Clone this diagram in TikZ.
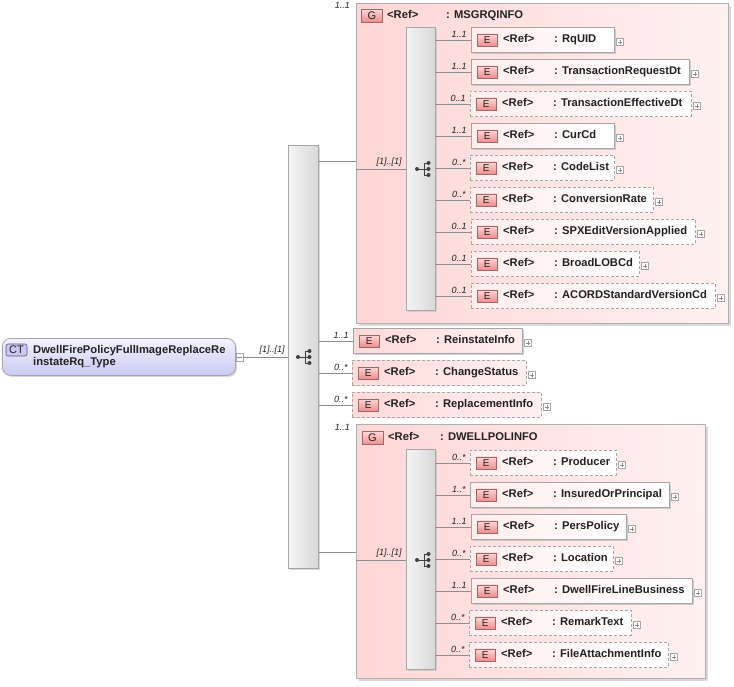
\documentclass[tikz,border=0pt]{standalone}
\usepackage{fontspec}
\setmainfont{Liberation Sans}
\usetikzlibrary{shadows}
\definecolor{lnc}{HTML}{8E8E8E}
\definecolor{bxc}{HTML}{A6A6A6}
\definecolor{gbc}{HTML}{B0B0B0}
\definecolor{pinkA}{HTML}{FFD6D6}
\definecolor{pinkB}{HTML}{FFF1F1}
\definecolor{epA}{HTML}{FFD9D9}
\definecolor{epB}{HTML}{FFEFEF}
\definecolor{eiA}{HTML}{FFEDED}
\definecolor{tagT}{HTML}{FFD6D6}
\definecolor{tagB}{HTML}{EE8E8E}
\definecolor{tagD}{HTML}{9A6A6A}
\definecolor{ctA}{HTML}{F2F2FF}
\definecolor{ctB}{HTML}{CACAF2}
\definecolor{cttag}{HTML}{C8C8F0}
\definecolor{cttagD}{HTML}{55558A}
\definecolor{barA}{HTML}{F4F4F4}
\definecolor{barB}{HTML}{D8D8D8}
\definecolor{txt}{HTML}{222222}
\newcommand{\xelem}[9]{%
  \node[ebox,#6,#7,minimum width=#4pt,anchor=north west] (#1) at (#2,#3) {};
  \node[etag,anchor=west] (#1t) at ([xshift=6pt]#1.west) {E};
  \node[reftxt,anchor=west] (#1r) at ([xshift=32pt]#1.west) {<Ref>};
  \node[reftxt,anchor=west] (#1n) at ([xshift=83pt]#1.west) {: #5};
  \node[plusbox] (#1p) at ([xshift=5pt,yshift=-2pt]#1.east) {};
  \draw[conn] (#9.east |- #1.west) -- (#1.west)
    node[occ,pos=1,anchor=south east,xshift=-4pt,yshift=2pt] {#8};
}
\begin{document}
\begin{tikzpicture}[x=1pt,y=-1pt,
  conn/.style={draw=lnc,line width=0.7pt},
  ebox/.style={draw=bxc,line width=0.8pt,minimum height=25pt,inner sep=0pt},
  solidb/.style={drop shadow={shadow xshift=1.5pt,shadow yshift=-1.5pt,fill=black!30,opacity=0.6}},
  dashb/.style={dash pattern=on 3pt off 2pt},
  ingrp/.style={left color=eiA,right color=white},
  toplv/.style={left color=epA,right color=epB},
  etag/.style={draw=tagD,line width=0.6pt,top color=tagT,bottom color=tagB,minimum width=20pt,minimum height=12pt,inner sep=0pt,font=\fontsize{10}{10}\selectfont,text=txt},
  reftxt/.style={font=\fontsize{11.2}{13}\selectfont\bfseries,inner sep=0pt,text=txt,text height=8pt,text depth=2.4pt},
  occ/.style={font=\fontsize{9}{10}\selectfont\itshape,inner sep=0pt,text=txt},
  plusbox/.style={draw=black!35,line width=0.5pt,minimum size=7pt,inner sep=0pt,fill=white,
    path picture={\draw[black!45,line width=0.5pt]
      ([xshift=-2.2pt]path picture bounding box.center) -- ([xshift=2.2pt]path picture bounding box.center)
      ([yshift=-2.2pt]path picture bounding box.center) -- ([yshift=2.2pt]path picture bounding box.center);}},
  bar/.style={draw=black!35,line width=0.7pt,left color=barA,right color=barB,inner sep=0pt,
    drop shadow={shadow xshift=1.5pt,shadow yshift=-1.5pt,fill=black!25,opacity=0.6}},
  grp/.style={draw=gbc,line width=0.8pt,left color=pinkA,right color=pinkB,inner sep=0pt,
    drop shadow={shadow xshift=2.5pt,shadow yshift=-2.5pt,fill=black!25,opacity=0.6}},
  seqsym/.pic={
    \draw[black!75,line width=0.7pt] (-7,0) -- (0,0) (0,-6) -- (0,6)
      (0,-6) -- (4.5,-6) (0,0) -- (4.5,0) (0,6) -- (4.5,6);
    \fill[black!75] (-7,0) circle (2) (4.5,-6) circle (2) (4.5,0) circle (2) (4.5,6) circle (2);
  }]
\useasboundingbox (0,0) rectangle (734,686);

% complex type
\node[draw=black!35,line width=0.8pt,rounded corners=8pt,top color=ctA,bottom color=ctB,
  minimum width=233pt,minimum height=37pt,anchor=north west,
  drop shadow={shadow xshift=1.5pt,shadow yshift=-1.5pt,fill=black!25,opacity=0.6}] (ct) at (2,338) {};
\node[draw=cttagD,line width=0.6pt,rounded corners=2pt,fill=cttag,minimum width=21pt,minimum height=12pt,
  inner sep=0pt,font=\fontsize{11}{11}\selectfont,text=txt] (ctt) at (16.5,350) {CT};
\node[anchor=west,align=left,inner sep=0pt,font=\fontsize{11.2}{12}\selectfont\bfseries,text=txt] (ctn) at (33,357)
  {DwellFirePolicyFullImageReplaceRe\\instateRq\_Type};
\node[draw=black!35,line width=0.5pt,minimum width=7pt,minimum height=8pt,inner sep=0pt,fill=white,
  path picture={\draw[black!45,line width=0.5pt] ([xshift=-2.2pt]path picture bounding box.center) -- ([xshift=2.2pt]path picture bounding box.center);}] (ctm) at (239.5,357) {};

% main sequence
\node[bar,minimum width=30pt,minimum height=423pt,anchor=north west] (seq) at (288,145) {};
\pic at (305,357) {seqsym};
\draw[conn] (ctm.east) -- (seq.west |- ctm.east)
  node[occ,pos=1,anchor=south east,xshift=-3pt,yshift=2pt] {[1]..[1]};

% group MSGRQINFO
\node[grp,minimum width=372pt,minimum height=320pt,anchor=north west] (g1) at (356,3) {};
\node[occ,anchor=north east] (g1o) at (350,2) {1..1};
\node[etag,minimum width=21pt,minimum height=13pt,font=\fontsize{11}{11}\selectfont] (g1t) at (372,15.5) {G};
\node[reftxt,anchor=west] (g1r) at (387,15.5) {<Ref>};
\node[reftxt,anchor=west] (g1n) at (446,15.5) {: MSGRQINFO};
\coordinate (g1port) at (356,161);
\draw[conn] (seq.east |- g1port) -- (g1port);
\node[bar,minimum width=29pt,minimum height=283pt,anchor=north west] (i1) at (406,27) {};
\pic at (424,169) {seqsym};
\coordinate (g1in) at (356,169);
\draw[conn] (g1in) -- (i1.west |- g1in)
  node[occ,pos=1,anchor=south east,xshift=-4pt,yshift=2pt] {[1]..[1]};

\xelem{rquid}{471}{27}{143}{RqUID}{solidb}{ingrp}{1..1}{i1}
\xelem{treq}{471}{59}{218}{TransactionRequestDt}{solidb}{ingrp}{1..1}{i1}
\xelem{teff}{470}{91}{221}{TransactionEffectiveDt}{dashb}{ingrp}{0..1}{i1}
\xelem{curcd}{471}{123}{143}{CurCd}{solidb}{ingrp}{1..1}{i1}
\xelem{codel}{470}{155}{144}{CodeList}{dashb}{ingrp}{0..*}{i1}
\xelem{convr}{470}{187}{183}{ConversionRate}{dashb}{ingrp}{0..*}{i1}
\xelem{spx}{471}{219}{224}{SPXEditVersionApplied}{dashb}{ingrp}{0..1}{i1}
\xelem{blob}{471}{251}{168}{BroadLOBCd}{dashb}{ingrp}{0..1}{i1}
\xelem{acord}{471}{283}{244}{ACORDStandardVersionCd}{dashb}{ingrp}{0..1}{i1}

% top-level elements
\xelem{reinst}{353}{328}{169}{ReinstateInfo}{solidb}{toplv}{1..1}{seq}
\xelem{chgst}{352}{360}{174}{ChangeStatus}{dashb}{toplv}{0..*}{seq}
\xelem{repl}{352}{392}{189}{ReplacementInfo}{dashb}{toplv}{0..*}{seq}

% group DWELLPOLINFO
\node[grp,minimum width=349pt,minimum height=254pt,anchor=north west] (g2) at (356,424) {};
\node[occ,anchor=north east] (g2o) at (350,424) {1..1};
\node[etag,minimum width=21pt,minimum height=13pt,font=\fontsize{11}{11}\selectfont] (g2t) at (372.5,438) {G};
\node[reftxt,anchor=west] (g2r) at (388,438) {<Ref>};
\node[reftxt,anchor=west] (g2n) at (440,438) {: DWELLPOLINFO};
\coordinate (g2port) at (356,552);
\draw[conn] (seq.east |- g2port) -- (g2port);
\node[bar,minimum width=29pt,minimum height=220pt,anchor=north west] (i2) at (406,449) {};
\pic at (424,560) {seqsym};
\coordinate (g2in) at (356,560);
\draw[conn] (g2in) -- (i2.west |- g2in)
  node[occ,pos=1,anchor=south east,xshift=-4pt,yshift=2pt] {[1]..[1]};

\xelem{prod}{470}{450}{146}{Producer}{dashb}{ingrp}{0..*}{i2}
\xelem{insur}{470}{482}{199}{InsuredOrPrincipal}{solidb}{ingrp}{1..*}{i2}
\xelem{pers}{471}{514}{155}{PersPolicy}{solidb}{ingrp}{1..1}{i2}
\xelem{loc}{470}{546}{143}{Location}{dashb}{ingrp}{0..*}{i2}
\xelem{dwell}{471}{578}{221}{DwellFireLineBusiness}{solidb}{ingrp}{1..1}{i2}
\xelem{remark}{469}{610}{162}{RemarkText}{dashb}{ingrp}{0..*}{i2}
\xelem{fatt}{469}{642}{199}{FileAttachmentInfo}{dashb}{ingrp}{0..*}{i2}
\end{tikzpicture}
\end{document}
